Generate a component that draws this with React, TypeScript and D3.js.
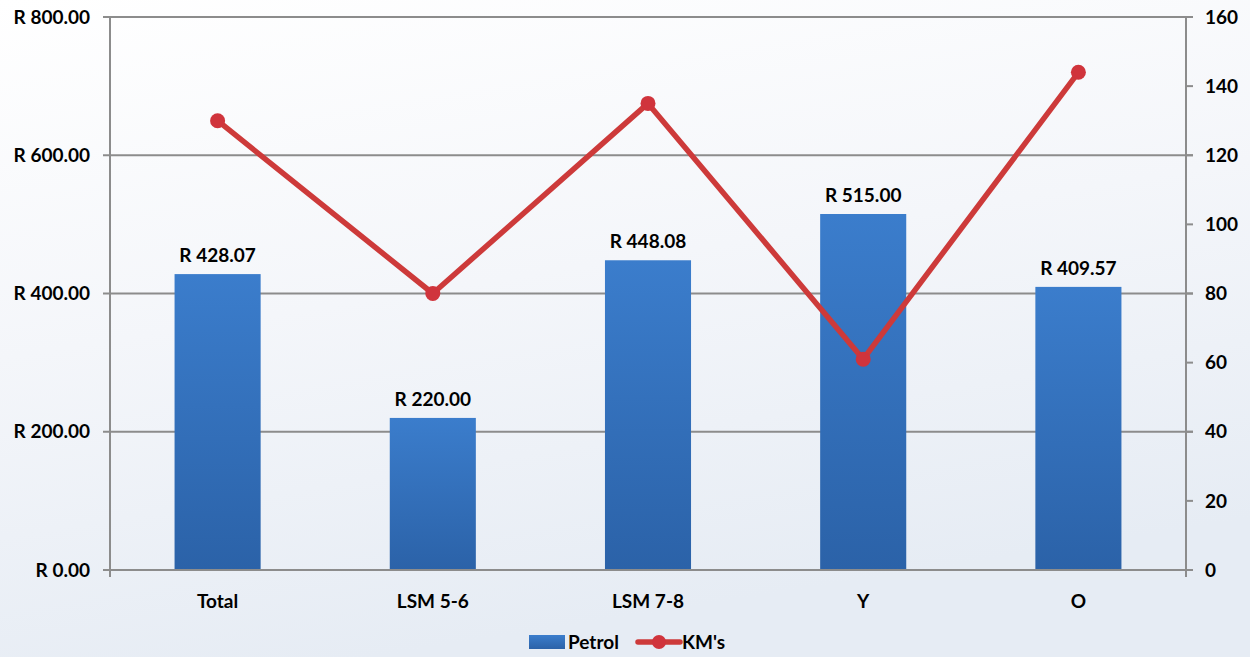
import React from "react";
import * as d3 from "d3";

const categories = ["Total", "LSM 5-6", "LSM 7-8", "Y", "O"];
const petrol = [428.07, 220.0, 448.08, 515.0, 409.57];
const kms = [130, 80, 135, 61, 144];
const leftTicks = [0, 200, 400, 600, 800];
const rightTicks = [0, 20, 40, 60, 80, 100, 120, 140, 160];

const W = 1250, H = 657;
const M = { left: 110, right: 1186, top: 17, bottom: 570 };
const FONT = "Lato, 'Open Sans', sans-serif";
const FS = 19;

export default function App() {
  const x = d3.scaleBand<string>().domain(categories).range([M.left, M.right]).paddingInner(0.6).paddingOuter(0.3);
  const yL = d3.scaleLinear().domain([0, 800]).range([M.bottom, M.top]);
  const yR = d3.scaleLinear().domain([0, 160]).range([M.bottom, M.top]);
  const cx = (c: string) => (x(c) as number) + x.bandwidth() / 2;
  const line = d3.line<number>().x((_, i) => cx(categories[i])).y((d) => yR(d));
  const fmt = (v: number) => "R " + v.toFixed(2);

  return (
    <svg width={W} height={H} style={{ position: "absolute", left: 0, top: 0 }}>
      <defs>
        <linearGradient id="bg" x1="0" y1="0" x2="0.3" y2="1">
          <stop offset="0" stopColor="#ffffff" />
          <stop offset="0.5" stopColor="#f4f6fa" />
          <stop offset="1" stopColor="#e6ecf4" />
        </linearGradient>
        <linearGradient id="bar" x1="0" y1="0" x2="0" y2="1">
          <stop offset="0" stopColor="#3b7dcc" />
          <stop offset="1" stopColor="#2b62a8" />
        </linearGradient>
      </defs>
      <rect x={0} y={0} width={W} height={H} fill="url(#bg)" />
      {leftTicks.filter((t) => t > 0).map((t) => (
        <line key={t} x1={M.left - 7} x2={M.right + 7} y1={yL(t)} y2={yL(t)} stroke="#8c8c8c" strokeWidth={2} />
      ))}
      {categories.map((c, i) => (
        <rect key={c} x={x(c)} y={yL(petrol[i])} width={x.bandwidth()} height={yL(0) - yL(petrol[i])} fill="url(#bar)" />
      ))}
      <line x1={M.left} x2={M.left} y1={M.top} y2={M.bottom + 7} stroke="#8c8c8c" strokeWidth={2} />
      <line x1={M.right} x2={M.right} y1={M.top} y2={M.bottom + 7} stroke="#8c8c8c" strokeWidth={2} />
      <line x1={M.left - 7} x2={M.right + 7} y1={M.bottom} y2={M.bottom} stroke="#8c8c8c" strokeWidth={2} />
      {rightTicks.map((t) => (
        <line key={t} x1={M.right} x2={M.right + 7} y1={yR(t)} y2={yR(t)} stroke="#8c8c8c" strokeWidth={2} />
      ))}
      {leftTicks.map((t) => (
        <text key={t} x={90} y={yL(t)} dy="0.35em" textAnchor="end" fontFamily={FONT} fontWeight="bold" fontSize={FS} fill="#000">
          {fmt(t)}
        </text>
      ))}
      {rightTicks.map((t) => (
        <text key={t} x={1205} y={yR(t)} dy="0.35em" textAnchor="start" fontFamily={FONT} fontWeight="bold" fontSize={FS} fill="#000">
          {t}
        </text>
      ))}
      {categories.map((c) => (
        <text key={c} x={cx(c)} y={601} dy="0.35em" textAnchor="middle" fontFamily={FONT} fontWeight="bold" fontSize={FS} fill="#000">
          {c}
        </text>
      ))}
      {categories.map((c, i) => (
        <text key={c} x={cx(c)} y={yL(petrol[i]) - 19} dy="0.35em" textAnchor="middle" fontFamily={FONT} fontWeight="bold" fontSize={FS} fill="#000">
          {fmt(petrol[i])}
        </text>
      ))}
      <path d={line(kms) || ""} fill="none" stroke="#cd3a3a" strokeWidth={5.5} strokeLinejoin="round" />
      {kms.map((v, i) => (
        <circle key={i} cx={cx(categories[i])} cy={yR(v)} r={7.5} fill="#d0343c" />
      ))}
      <rect x={529} y={635} width={36} height={14} fill="url(#bar)" />
      <text x={568} y={642} dy="0.35em" fontFamily={FONT} fontWeight="bold" fontSize={FS} fill="#000">Petrol</text>
      <line x1={638} x2={680} y1={642} y2={642} stroke="#cd3a3a" strokeWidth={5.5} strokeLinecap="round" />
      <circle cx={659} cy={642} r={7} fill="#d0343c" />
      <text x={682} y={642} dy="0.35em" fontFamily={FONT} fontWeight="bold" fontSize={FS} fill="#000">KM's</text>
    </svg>
  );
}
